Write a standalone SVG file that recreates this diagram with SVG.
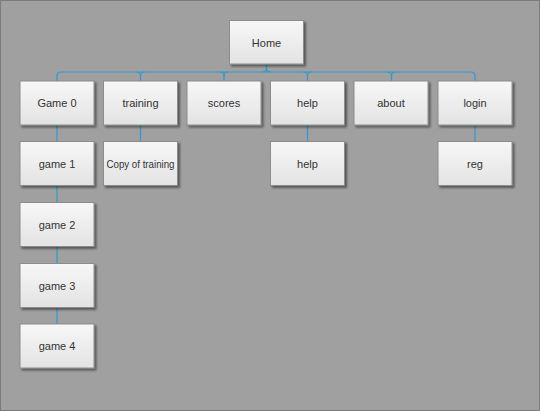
<svg xmlns="http://www.w3.org/2000/svg" width="540" height="411" viewBox="0 0 540 411">
<defs>
<linearGradient id="g" x1="0" y1="0" x2="0" y2="1">
<stop offset="0" stop-color="#f7f7f7"/>
<stop offset="1" stop-color="#e3e3e3"/>
</linearGradient>
<filter id="sh" x="-10%" y="-10%" width="130%" height="140%">
<feDropShadow dx="2" dy="2" stdDeviation="1.2" flood-color="#000" flood-opacity="0.45"/>
</filter>
</defs>
<style>
.n rect{fill:url(#g);stroke:#8c8c8c;stroke-width:1;filter:url(#sh)}
.n text{font-family:"Liberation Sans",Arial,sans-serif;font-size:11px;fill:#333;text-anchor:middle;dominant-baseline:central}
.n text.s{font-size:10.5px}
.c path{fill:none;stroke:#2b9ccf;stroke-width:1.2}
</style>
<rect x="0.5" y="0.5" width="539" height="410" fill="#a0a0a0" stroke="#7c7c7c"/>
<g class="c">
<path d="M57,81 V76 Q57,72 61,72 H471 Q475,72 475,76 V81"/>
<path d="M266.5,64 V68 Q266.5,72 262.5,72 M266.5,68 Q266.5,72 270.5,72"/>
<path d="M136.5,72 Q140.5,72 140.5,76 V81 M144.5,72 Q140.5,72 140.5,76"/>
<path d="M220,72 Q224,72 224,76 V81 M228,72 Q224,72 224,76"/>
<path d="M303.5,72 Q307.5,72 307.5,76 V81 M311.5,72 Q307.5,72 307.5,76"/>
<path d="M387.5,72 Q391.5,72 391.5,76 V81 M395.5,72 Q391.5,72 391.5,76"/>
<path d="M57,125 V141.5 M57,185.5 V202.5 M57,246.5 V263.5 M57,307.5 V324"/>
<path d="M140.5,125 V141.5"/>
<path d="M307.5,125 V141.5"/>
<path d="M475,125 V141.5"/>
</g>
<g id="home" class="n"><rect x="229.5" y="20.5" width="74" height="43.5"/><text x="266.5" y="42.5">Home</text></g>
<g id="game0" class="n"><rect x="20" y="81" width="74" height="44"/><text x="57" y="103">Game 0</text></g>
<g id="training" class="n"><rect x="103.5" y="81" width="74" height="44"/><text x="140.5" y="103">training</text></g>
<g id="scores" class="n"><rect x="187" y="81" width="74" height="44"/><text x="224" y="103">scores</text></g>
<g id="help" class="n"><rect x="270.5" y="81" width="74" height="44"/><text x="307.5" y="103">help</text></g>
<g id="about" class="n"><rect x="354" y="81" width="74" height="44"/><text x="391" y="103">about</text></g>
<g id="login" class="n"><rect x="438" y="81" width="74" height="44"/><text x="475" y="103">login</text></g>
<g id="game1" class="n"><rect x="20" y="141.5" width="74" height="44"/><text x="57" y="163.5">game 1</text></g>
<g id="copytraining" class="n"><rect x="103.5" y="141.5" width="74" height="44"/><text class="s" x="140.5" y="163.5" textLength="68" lengthAdjust="spacingAndGlyphs">Copy of training</text></g>
<g id="help2" class="n"><rect x="270.5" y="141.5" width="74" height="44"/><text x="307.5" y="163.5">help</text></g>
<g id="reg" class="n"><rect x="438" y="141.5" width="74" height="44"/><text x="475" y="163.5">reg</text></g>
<g id="game2" class="n"><rect x="20" y="202.5" width="74" height="44"/><text x="57" y="224.5">game 2</text></g>
<g id="game3" class="n"><rect x="20" y="263.5" width="74" height="44"/><text x="57" y="285.5">game 3</text></g>
<g id="game4" class="n"><rect x="20" y="324" width="74" height="44"/><text x="57" y="346">game 4</text></g>
</svg>
